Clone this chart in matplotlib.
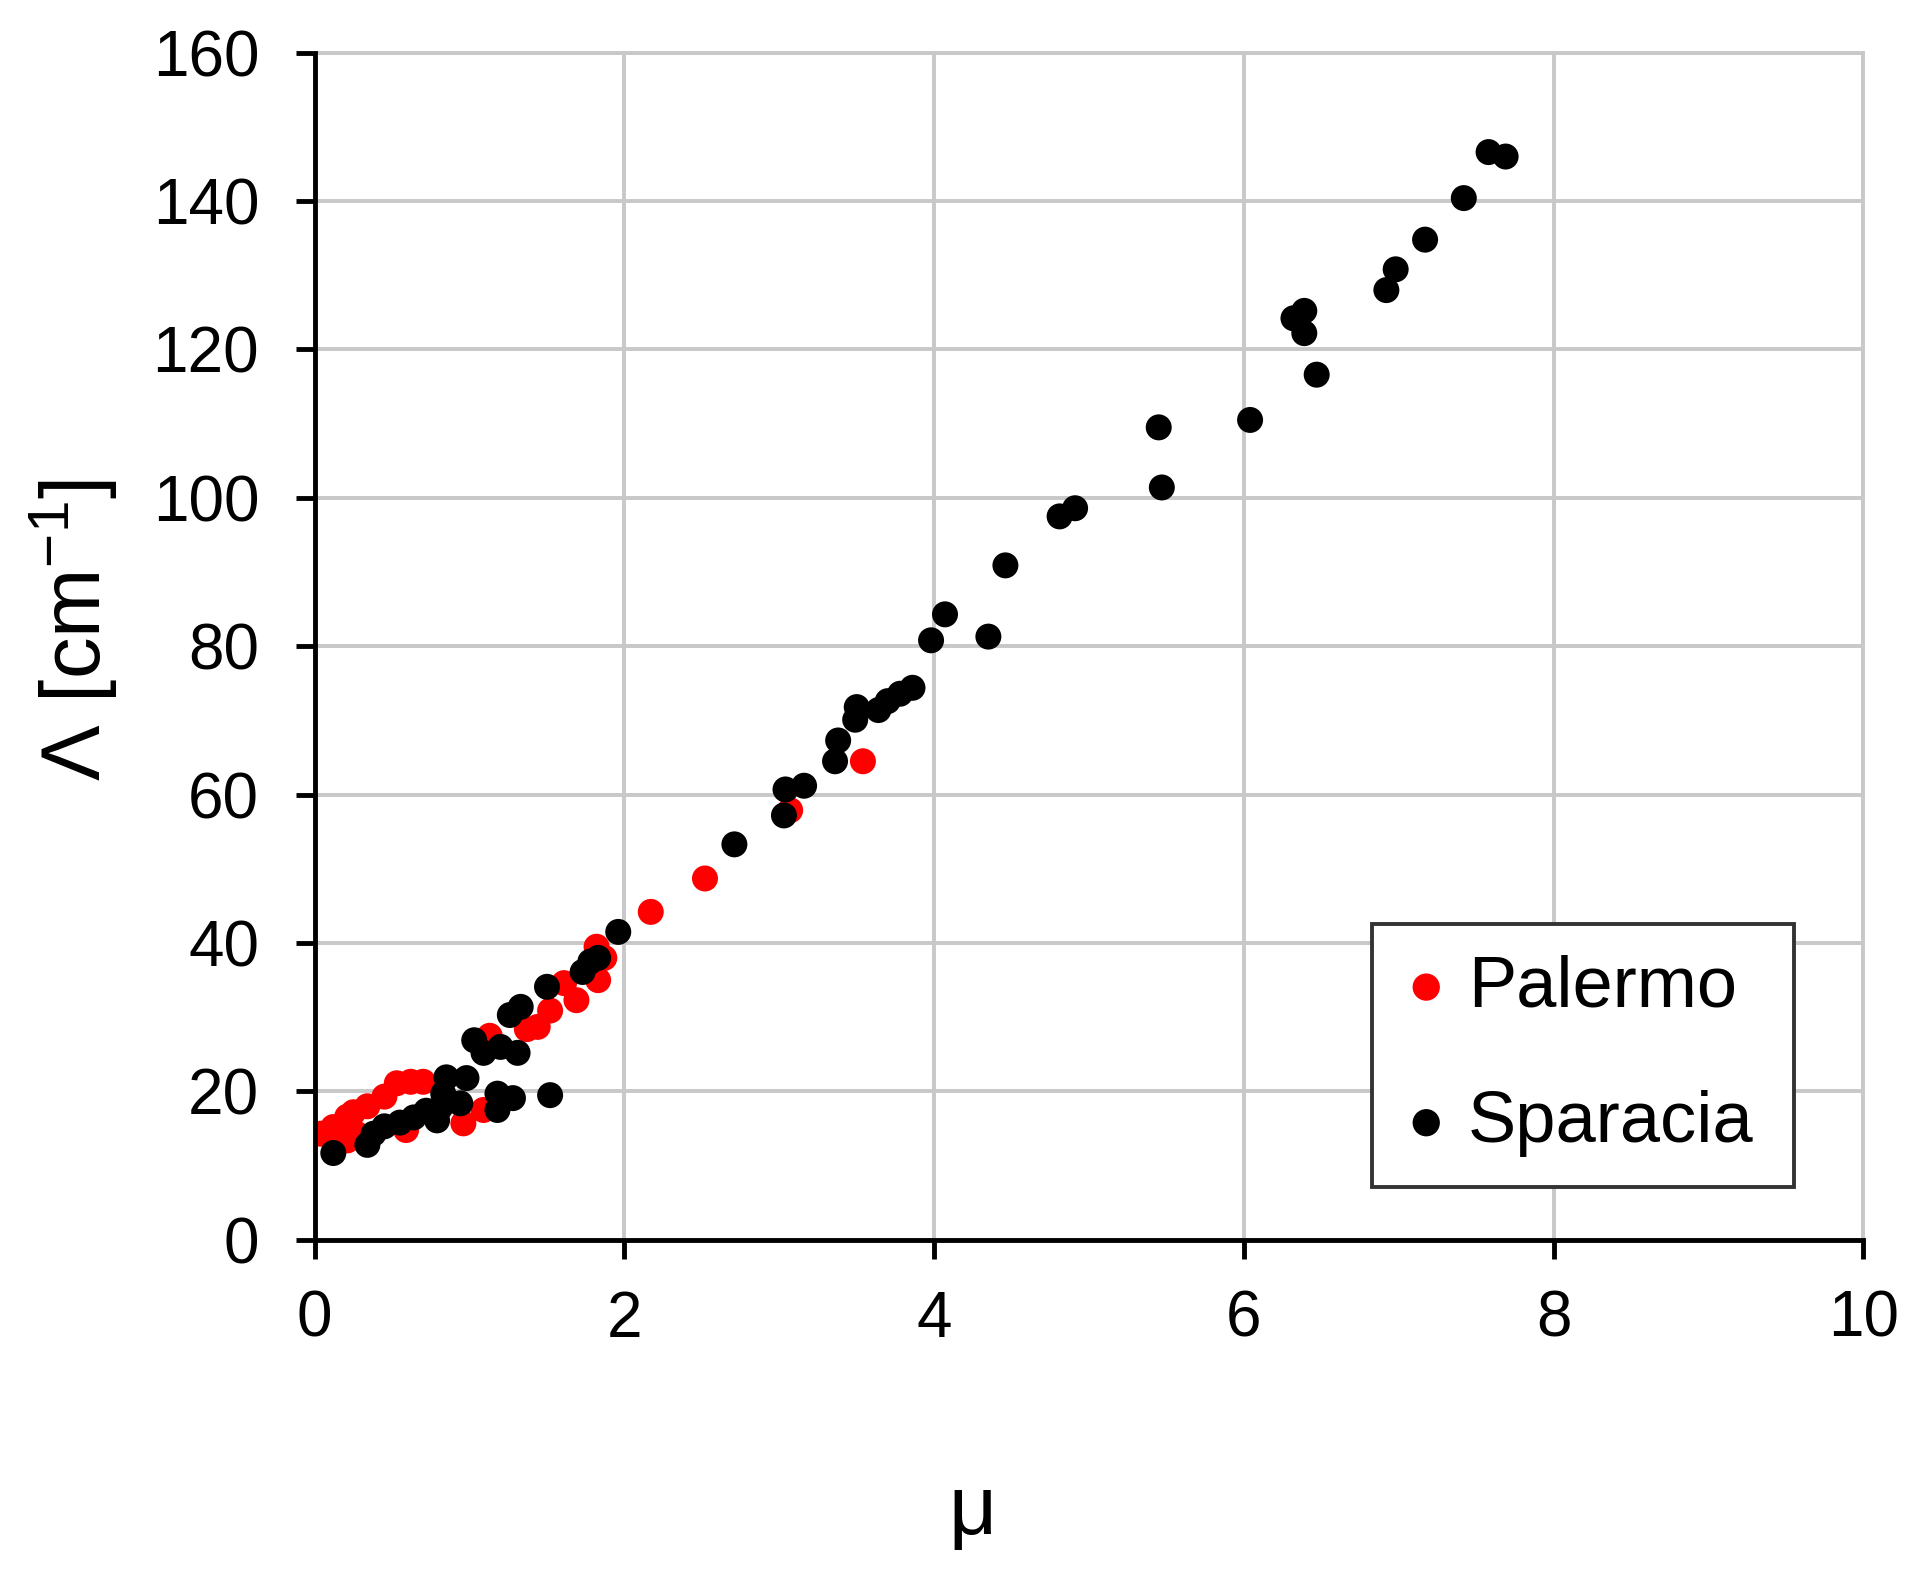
import numpy as np
import matplotlib
matplotlib.use("Agg")
import matplotlib.pyplot as plt

plt.rcParams['font.family'] = ['Liberation Sans', 'DejaVu Sans']
plt.rcParams['mathtext.fontset'] = 'custom'
plt.rcParams['mathtext.rm'] = 'Liberation Sans'
plt.rcParams['mathtext.it'] = 'Liberation Sans'

# Palermo samples (mu, Lambda)
palermo_mu = [0.04, 0.12, 0.21, 0.21, 0.25, 0.27, 0.34, 0.45, 0.53, 0.59, 0.62, 0.70,
              0.96, 1.09, 1.13, 1.37, 1.44, 1.52, 1.61, 1.69, 1.82, 1.83, 1.87,
              2.17, 2.52, 3.07, 3.54]
palermo_lam = [14.3, 15.2, 16.6, 13.4, 17.2, 14.3, 18.0, 19.3, 21.1, 14.8, 21.3, 21.3,
               15.7, 17.5, 27.5, 28.4, 28.7, 30.9, 34.6, 32.3, 39.5, 35.0, 38.0,
               44.2, 48.7, 57.9, 64.5]

# Sparacia samples (mu, Lambda)
sparacia_mu = [0.12, 0.34, 0.38, 0.45, 0.55, 0.64, 0.72, 0.79, 0.81, 0.83, 0.85, 0.94,
               0.98, 1.03, 1.09, 1.18, 1.18, 1.20, 1.26, 1.28, 1.31, 1.33, 1.50, 1.52,
               1.73, 1.78, 1.83, 1.96, 2.71, 3.03, 3.04, 3.16, 3.36, 3.38, 3.49, 3.50,
               3.64, 3.70, 3.78, 3.86, 3.98, 4.07, 4.35, 4.46, 4.81, 4.91, 5.45, 5.47,
               6.04, 6.32, 6.39, 6.39, 6.47, 6.92, 6.98, 7.17, 7.42, 7.58, 7.69]
sparacia_lam = [11.7, 12.8, 14.3, 15.3, 15.8, 16.5, 17.4, 16.1, 17.8, 19.7, 21.9, 18.4,
                21.8, 26.9, 25.2, 19.7, 17.5, 26.0, 30.3, 19.1, 25.2, 31.4, 34.1, 19.5,
                36.1, 37.5, 38.0, 41.5, 53.3, 57.2, 60.7, 61.2, 64.5, 67.3, 70.1, 71.8,
                71.4, 72.6, 73.6, 74.4, 80.8, 84.3, 81.3, 90.9, 97.5, 98.6, 109.5, 101.4,
                110.5, 124.2, 125.2, 122.2, 116.6, 128.0, 130.8, 134.8, 140.4, 146.6, 146.0]

fig = plt.figure(figsize=(19.19, 15.72), dpi=100)
ax = fig.add_axes([0.164, 0.2113, 0.807, 0.7552])

ax.scatter(palermo_mu, palermo_lam, s=350, color='#ff0000', edgecolors='none',
           label='Palermo', zorder=3)
ax.scatter(sparacia_mu, sparacia_lam, s=350, color='#000000', edgecolors='none',
           label='Sparacia', zorder=4)

ax.set_xlim(0, 10)
ax.set_ylim(0, 160)
ax.set_xticks(np.arange(0, 11, 2))
ax.set_yticks(np.arange(0, 161, 20))
ax.grid(True, color='#c8c8c8', linewidth=2.8, zorder=0)
ax.set_axisbelow(True)

for s in ['top', 'right']:
    ax.spines[s].set_color('#c8c8c8')
    ax.spines[s].set_linewidth(2.8)
for s in ['left', 'bottom']:
    ax.spines[s].set_color('black')
    ax.spines[s].set_linewidth(3.5)
    ax.spines[s].set_zorder(5)

ax.tick_params(axis='both', direction='out', length=14, width=3.5, labelsize=46,
               colors='black')
ax.tick_params(axis='x', pad=22)
ax.tick_params(axis='y', pad=26)

ax.set_xlabel('μ', fontsize=60)
ax.xaxis.set_label_coords(0.425, -0.196)
ax.set_ylabel(r'Λ [cm$^{\mathrm{-1}}$]', fontsize=60)
ax.yaxis.set_label_coords(-0.126, 0.514)

leg = ax.legend(loc='lower left', bbox_to_anchor=(0.683, 0.0445, 0.272, 0.224),
                mode='expand', fontsize=52, frameon=True, fancybox=False,
                edgecolor='#333333', framealpha=1, markerscale=1.05,
                handletextpad=0.25, handlelength=0.65, labelspacing=0.95,
                borderaxespad=0, borderpad=0.42)
leg.get_frame().set_linewidth(2.8)
leg.set_zorder(6)

fig.savefig('out.png', dpi=100, facecolor='white')
